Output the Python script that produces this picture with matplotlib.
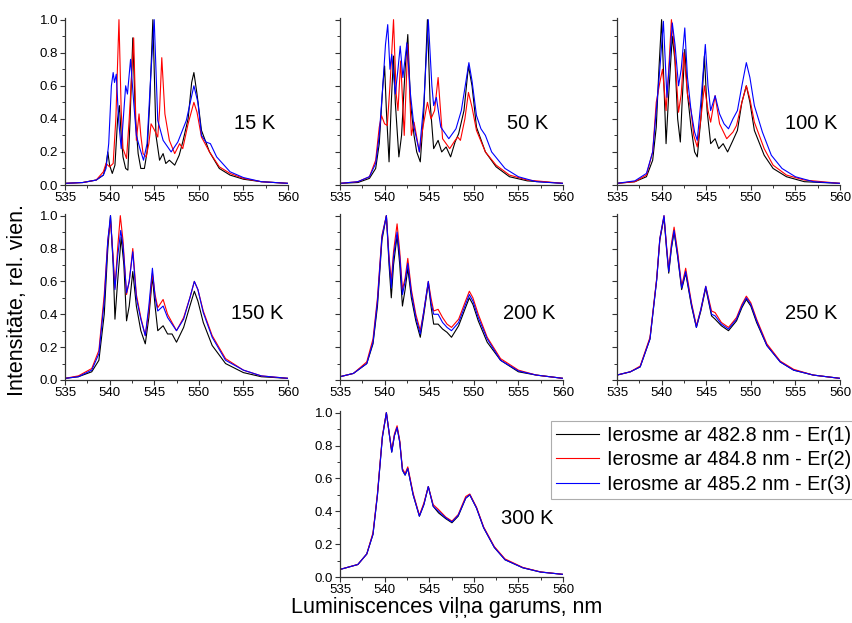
"""Er luminescence spectra at several temperatures, three excitation wavelengths."""

import matplotlib

matplotlib.use("Agg")
import matplotlib.pyplot as plt
from matplotlib.ticker import MultipleLocator

plt.rcParams["font.family"] = ["Liberation Sans", "DejaVu Sans"]

SERIES_LABELS = [
    "Ierosme ar 482.8 nm - Er(1)",
    "Ierosme ar 484.8 nm - Er(2)",
    "Ierosme ar 485.2 nm - Er(3)",
]
SERIES_COLORS = ["black", "#ff0000", "#0000ff"]
TEMPERATURES = ["15 K", "50 K", "100 K", "150 K", "200 K", "250 K", "300 K"]

# (wavelength nm, relative intensity)
K15_ER1 = [(535, 0.01), (537, 0.015), (538.5, 0.03), (539.3, 0.06), (539.6, 0.12), (539.8, 0.2),
           (540.0, 0.12), (540.3, 0.07), (540.6, 0.12), (540.9, 0.4), (541.1, 0.48), (541.3, 0.3),
           (541.5, 0.17), (541.8, 0.1), (542.05, 0.09), (542.3, 0.4), (542.6, 0.89), (542.9, 0.4),
           (543.2, 0.19), (543.5, 0.1), (543.9, 0.1), (544.2, 0.2), (544.5, 0.5), (544.85, 1.0),
           (545.2, 0.3), (545.6, 0.15), (546.0, 0.19), (546.3, 0.13), (546.7, 0.15), (547.3, 0.12),
           (547.8, 0.18), (548.2, 0.26), (548.8, 0.4), (549.2, 0.62), (549.45, 0.68), (549.8, 0.55),
           (550.3, 0.33), (551.2, 0.2), (552.3, 0.1), (553.5, 0.06), (555, 0.035), (557, 0.02),
           (560, 0.01)]
K15_ER2 = [(535, 0.01), (537, 0.015), (538.5, 0.03), (539.3, 0.08), (539.6, 0.13), (540.0, 0.11),
           (540.4, 0.13), (540.7, 0.4), (541.05, 1.0), (541.3, 0.45), (541.5, 0.22), (541.9, 0.16),
           (542.2, 0.4), (542.7, 0.89), (543.0, 0.27), (543.3, 0.43), (543.5, 0.3), (543.75, 0.19),
           (544.1, 0.17), (544.4, 0.25), (544.65, 0.37), (545.05, 0.33), (545.4, 0.29), (545.6, 0.45),
           (545.85, 0.77), (546.2, 0.43), (546.7, 0.27), (547.3, 0.19), (547.85, 0.25), (548.2, 0.22),
           (548.8, 0.37), (549.45, 0.5), (549.8, 0.44), (550.3, 0.29), (551.2, 0.2), (552.3, 0.11),
           (553.5, 0.07), (555, 0.04), (557, 0.02), (560, 0.01)]
K15_ER3 = [(535, 0.01), (537, 0.015), (538.5, 0.03), (539.3, 0.06), (539.6, 0.1), (539.9, 0.25),
           (540.2, 0.6), (540.4, 0.68), (540.55, 0.62), (540.75, 0.67), (541.0, 0.4), (541.3, 0.22),
           (541.6, 0.45), (541.8, 0.6), (542.0, 0.55), (542.35, 0.76), (542.7, 0.5), (543.0, 0.3),
           (543.4, 0.22), (543.8, 0.15), (544.2, 0.25), (544.6, 0.65), (545.0, 1.0), (545.4, 0.39),
           (546.0, 0.27), (546.9, 0.2), (547.65, 0.26), (548.6, 0.39), (549.45, 0.6), (549.9, 0.5),
           (550.3, 0.3), (550.8, 0.26), (551.3, 0.25), (552.0, 0.17), (553.5, 0.08), (555, 0.045),
           (557, 0.02), (560, 0.01)]

K50_ER1 = [(535, 0.01), (537, 0.015), (538.3, 0.04), (539.0, 0.1), (539.4, 0.25), (539.8, 0.6),
           (540.0, 0.72), (540.2, 0.45), (540.5, 0.14), (540.75, 0.5), (541.0, 0.78), (541.2, 0.5),
           (541.6, 0.17), (541.9, 0.3), (542.3, 0.7), (542.6, 0.91), (542.9, 0.5), (543.3, 0.3),
           (543.6, 0.2), (544.0, 0.14), (544.4, 0.45), (544.8, 1.0), (545.1, 0.5), (545.5, 0.22),
           (546.0, 0.27), (546.4, 0.2), (546.9, 0.23), (547.4, 0.17), (547.9, 0.26), (548.3, 0.31),
           (548.9, 0.45), (549.4, 0.72), (549.8, 0.6), (550.3, 0.35), (551.3, 0.2), (552.5, 0.11),
           (554, 0.05), (556, 0.025), (560, 0.01)]
K50_ER2 = [(535, 0.01), (537, 0.02), (538.3, 0.05), (539.0, 0.15), (539.4, 0.35), (539.65, 0.42),
           (540.0, 0.37), (540.3, 0.36), (540.6, 0.6), (541.0, 1.0), (541.3, 0.55), (541.5, 0.45),
           (541.8, 0.75), (542.2, 0.3), (542.6, 0.85), (543.0, 0.3), (543.3, 0.38), (543.9, 0.2),
           (544.3, 0.35), (544.8, 0.5), (545.2, 0.4), (545.6, 0.45), (546.0, 0.65), (546.5, 0.28),
           (547.3, 0.22), (547.9, 0.27), (548.2, 0.29), (548.5, 0.27), (549.0, 0.4), (549.4, 0.56),
           (549.8, 0.47), (550.3, 0.33), (551.3, 0.2), (552.5, 0.12), (554, 0.06), (556, 0.03),
           (560, 0.01)]
K50_ER3 = [(535, 0.01), (537, 0.02), (538.3, 0.05), (539.0, 0.13), (539.4, 0.3), (539.8, 0.6),
           (540.1, 0.85), (540.35, 0.97), (540.6, 0.7), (540.8, 0.79), (541.2, 0.55), (541.5, 0.7),
           (541.75, 0.84), (542.05, 0.65), (542.5, 0.86), (542.9, 0.55), (543.3, 0.35), (543.9, 0.2),
           (544.4, 0.5), (544.9, 1.0), (545.3, 0.6), (545.5, 0.48), (545.8, 0.53), (546.3, 0.35),
           (547.2, 0.28), (548.0, 0.34), (548.6, 0.45), (549.1, 0.62), (549.45, 0.74), (549.8, 0.63),
           (550.3, 0.42), (550.8, 0.34), (551.3, 0.3), (552.0, 0.2), (553.5, 0.1), (555, 0.05),
           (557, 0.02), (560, 0.01)]

K100_ER1 = [(535, 0.01), (537, 0.02), (538.3, 0.05), (539.0, 0.15), (539.4, 0.35), (539.7, 0.7),
            (540.0, 1.0), (540.2, 0.7), (540.5, 0.25), (540.8, 0.55), (541.2, 0.9), (541.5, 0.75),
            (541.8, 0.4), (542.1, 0.26), (542.3, 0.5), (542.6, 0.82), (542.9, 0.55), (543.3, 0.35),
            (543.7, 0.2), (544.0, 0.17), (544.4, 0.4), (544.8, 0.78), (545.1, 0.45), (545.5, 0.25),
            (546.0, 0.28), (546.4, 0.22), (546.9, 0.25), (547.4, 0.2), (548.0, 0.27), (548.5, 0.33),
            (549.0, 0.5), (549.5, 0.6), (549.9, 0.5), (550.4, 0.33), (551.5, 0.18), (552.5, 0.1),
            (554, 0.05), (556, 0.02), (560, 0.01)]
K100_ER2 = [(535, 0.01), (537, 0.02), (538.3, 0.06), (539.0, 0.2), (539.4, 0.5), (539.8, 0.62),
            (540.1, 0.7), (540.5, 0.45), (540.8, 0.7), (541.1, 1.0), (541.4, 0.85), (541.9, 0.44),
            (542.2, 0.55), (542.5, 0.8), (542.9, 0.55), (543.3, 0.45), (543.6, 0.3), (544.0, 0.23),
            (544.4, 0.4), (544.8, 0.6), (545.2, 0.45), (545.5, 0.38), (546.0, 0.54), (546.5, 0.37),
            (547.3, 0.28), (548.0, 0.32), (548.4, 0.36), (549.0, 0.5), (549.5, 0.6), (549.9, 0.52),
            (550.4, 0.38), (551.5, 0.22), (552.5, 0.12), (554, 0.06), (556, 0.03), (560, 0.01)]
K100_ER3 = [(535, 0.01), (537, 0.025), (538.3, 0.07), (539.0, 0.2), (539.4, 0.45), (539.8, 0.7),
            (540.2, 0.99), (540.6, 0.53), (540.9, 0.75), (541.2, 0.98), (541.5, 0.85), (541.9, 0.6),
            (542.2, 0.7), (542.6, 0.95), (542.9, 0.65), (543.3, 0.45), (543.7, 0.32), (544.0, 0.27),
            (544.4, 0.5), (544.9, 0.85), (545.2, 0.6), (545.5, 0.45), (546.0, 0.54), (546.5, 0.43),
            (547.0, 0.37), (547.5, 0.34), (548.0, 0.4), (548.5, 0.45), (549.0, 0.6), (549.5, 0.74),
            (549.9, 0.65), (550.4, 0.48), (551.3, 0.32), (552.3, 0.18), (553.5, 0.1), (555, 0.05),
            (557, 0.02), (560, 0.01)]

K150_ER1 = [(535, 0.01), (536.5, 0.02), (538.0, 0.05), (538.8, 0.12), (539.4, 0.4), (539.8, 0.8),
            (540.1, 1.0), (540.4, 0.7), (540.6, 0.37), (540.9, 0.6), (541.3, 0.87), (541.6, 0.7),
            (541.9, 0.36), (542.2, 0.45), (542.6, 0.66), (543.0, 0.45), (543.5, 0.3), (544.0, 0.22),
            (544.4, 0.38), (544.8, 0.63), (545.1, 0.45), (545.4, 0.3), (546.0, 0.33), (546.5, 0.28),
            (547.0, 0.28), (547.5, 0.23), (548.3, 0.32), (549.0, 0.45), (549.5, 0.54), (549.9, 0.48),
            (550.5, 0.35), (551.5, 0.21), (553, 0.1), (555, 0.045), (557, 0.02), (560, 0.01)]
K150_ER2 = [(535, 0.01), (536.5, 0.025), (538.0, 0.07), (538.8, 0.18), (539.4, 0.52), (539.8, 0.85),
            (540.1, 0.97), (540.4, 0.75), (540.6, 0.56), (540.9, 0.8), (541.2, 1.0), (541.5, 0.85),
            (541.9, 0.52), (542.2, 0.6), (542.6, 0.8), (543.0, 0.52), (543.5, 0.38), (544.0, 0.27),
            (544.4, 0.42), (544.8, 0.65), (545.1, 0.52), (545.4, 0.44), (546.0, 0.49), (546.5, 0.4),
            (547.5, 0.3), (548.3, 0.38), (549.0, 0.5), (549.5, 0.6), (549.9, 0.55), (550.5, 0.42),
            (551.5, 0.27), (553, 0.13), (555, 0.06), (557, 0.025), (560, 0.01)]
K150_ER3 = [(535, 0.01), (536.5, 0.02), (538.0, 0.06), (538.8, 0.16), (539.4, 0.48), (539.8, 0.85),
            (540.1, 1.0), (540.4, 0.72), (540.6, 0.55), (540.9, 0.75), (541.25, 0.91), (541.5, 0.82),
            (541.9, 0.53), (542.2, 0.6), (542.6, 0.78), (543.0, 0.5), (543.5, 0.37), (544.0, 0.27),
            (544.4, 0.45), (544.8, 0.68), (545.1, 0.5), (545.4, 0.42), (546.0, 0.45), (546.5, 0.38),
            (547.5, 0.3), (548.3, 0.37), (549.0, 0.5), (549.5, 0.6), (549.9, 0.55), (550.5, 0.41),
            (551.5, 0.26), (553, 0.12), (555, 0.06), (557, 0.025), (560, 0.01)]

K200_ER1 = [(535, 0.02), (536.5, 0.04), (538.0, 0.1), (538.7, 0.22), (539.2, 0.45), (539.7, 0.85),
            (540.2, 1.0), (540.5, 0.7), (540.75, 0.5), (541.0, 0.7), (541.4, 0.88), (541.7, 0.7),
            (542.0, 0.45), (542.3, 0.55), (542.6, 0.68), (543.0, 0.5), (543.5, 0.36), (544.0, 0.26),
            (544.4, 0.4), (544.9, 0.59), (545.2, 0.45), (545.5, 0.34), (546.0, 0.34), (546.5, 0.31),
            (547.0, 0.29), (547.5, 0.26), (548.3, 0.33), (549.0, 0.43), (549.5, 0.5), (549.9, 0.46),
            (550.5, 0.36), (551.5, 0.23), (553, 0.12), (555, 0.05), (557, 0.03), (560, 0.01)]
K200_ER2 = [(535, 0.02), (536.5, 0.04), (538.0, 0.11), (538.7, 0.25), (539.2, 0.5), (539.7, 0.88),
            (540.2, 1.0), (540.5, 0.75), (540.75, 0.6), (541.0, 0.78), (541.4, 0.95), (541.7, 0.78),
            (542.0, 0.55), (542.3, 0.62), (542.6, 0.74), (543.0, 0.55), (543.5, 0.4), (544.0, 0.3),
            (544.4, 0.42), (544.9, 0.6), (545.2, 0.5), (545.5, 0.42), (546.0, 0.43), (546.5, 0.38),
            (547.0, 0.34), (547.5, 0.32), (548.3, 0.37), (549.0, 0.47), (549.5, 0.54), (549.9, 0.5),
            (550.5, 0.4), (551.5, 0.26), (553, 0.13), (555, 0.06), (557, 0.03), (560, 0.01)]
K200_ER3 = [(535, 0.02), (536.5, 0.04), (538.0, 0.1), (538.7, 0.23), (539.2, 0.48), (539.7, 0.87),
            (540.2, 1.0), (540.5, 0.73), (540.75, 0.56), (541.0, 0.75), (541.4, 0.9), (541.7, 0.75),
            (542.0, 0.52), (542.3, 0.6), (542.6, 0.71), (543.0, 0.53), (543.5, 0.38), (544.0, 0.28),
            (544.4, 0.42), (544.9, 0.6), (545.2, 0.47), (545.5, 0.4), (546.0, 0.4), (546.5, 0.35),
            (547.0, 0.32), (547.5, 0.3), (548.3, 0.35), (549.0, 0.45), (549.5, 0.52), (549.9, 0.48),
            (550.5, 0.38), (551.5, 0.25), (553, 0.12), (555, 0.055), (557, 0.03), (560, 0.01)]

K250_ER1 = [(535, 0.03), (536.5, 0.05), (537.6, 0.08), (538.7, 0.25), (539.45, 0.61), (539.8, 0.85),
            (540.27, 0.99), (540.55, 0.8), (540.8, 0.65), (541.1, 0.8), (541.4, 0.9), (541.8, 0.75),
            (542.25, 0.55), (542.7, 0.65), (543.35, 0.45), (543.9, 0.32), (544.4, 0.42), (544.95, 0.56),
            (545.6, 0.39), (546.0, 0.37), (546.7, 0.33), (547.5, 0.3), (548.4, 0.36), (549.0, 0.44),
            (549.5, 0.49), (550.0, 0.45), (550.65, 0.35), (551.8, 0.21), (553.3, 0.11), (554.8, 0.06),
            (557, 0.03), (560, 0.01)]
K250_ER2 = [(535, 0.03), (536.5, 0.05), (537.6, 0.085), (538.7, 0.26), (539.45, 0.62), (539.8, 0.86),
            (540.27, 1.0), (540.55, 0.82), (540.8, 0.67), (541.1, 0.83), (541.4, 0.93), (541.8, 0.78),
            (542.25, 0.57), (542.7, 0.68), (543.35, 0.47), (543.9, 0.33), (544.4, 0.43), (544.95, 0.57),
            (545.6, 0.42), (546.0, 0.41), (546.7, 0.35), (547.5, 0.32), (548.4, 0.38), (549.0, 0.46),
            (549.5, 0.51), (550.0, 0.47), (550.65, 0.37), (551.8, 0.22), (553.3, 0.115), (554.8, 0.065),
            (557, 0.03), (560, 0.01)]
K250_ER3 = [(535, 0.03), (536.5, 0.05), (537.6, 0.08), (538.7, 0.25), (539.45, 0.61), (539.8, 0.86),
            (540.27, 1.0), (540.55, 0.81), (540.8, 0.66), (541.1, 0.81), (541.4, 0.91), (541.8, 0.76),
            (542.25, 0.56), (542.7, 0.66), (543.35, 0.46), (543.9, 0.32), (544.4, 0.43), (544.95, 0.57),
            (545.6, 0.4), (546.0, 0.39), (546.7, 0.34), (547.5, 0.31), (548.4, 0.37), (549.0, 0.45),
            (549.5, 0.5), (550.0, 0.46), (550.65, 0.36), (551.8, 0.21), (553.3, 0.11), (554.8, 0.06),
            (557, 0.03), (560, 0.01)]

K300_ER1 = [(535, 0.046), (537.0, 0.076), (538.0, 0.14), (538.7, 0.26), (539.2, 0.5), (539.75, 0.85),
            (540.2, 1.0), (540.5, 0.88), (540.8, 0.76), (541.1, 0.86), (541.4, 0.91), (541.7, 0.82),
            (542.0, 0.65), (542.3, 0.62), (542.6, 0.66), (543.2, 0.5), (543.9, 0.37), (544.4, 0.44),
            (544.9, 0.55), (545.45, 0.43), (546.05, 0.39), (546.85, 0.355), (547.55, 0.33), (548.25, 0.37),
            (549.1, 0.48), (549.55, 0.5), (550.3, 0.42), (551.1, 0.3), (552.3, 0.18), (553.5, 0.105),
            (555.5, 0.056), (557.5, 0.03), (560, 0.016)]
K300_ER2 = [(535, 0.046), (537.0, 0.076), (538.0, 0.14), (538.7, 0.27), (539.2, 0.51), (539.75, 0.86),
            (540.2, 1.0), (540.5, 0.88), (540.8, 0.77), (541.1, 0.87), (541.4, 0.92), (541.7, 0.83),
            (542.0, 0.66), (542.3, 0.63), (542.6, 0.67), (543.2, 0.51), (543.9, 0.375), (544.4, 0.45),
            (544.9, 0.55), (545.45, 0.44), (546.05, 0.41), (546.85, 0.365), (547.55, 0.34), (548.25, 0.38),
            (549.1, 0.49), (549.55, 0.505), (550.3, 0.425), (551.1, 0.305), (552.3, 0.185), (553.5, 0.11),
            (555.5, 0.058), (557.5, 0.031), (560, 0.016)]
K300_ER3 = [(535, 0.046), (537.0, 0.076), (538.0, 0.14), (538.7, 0.26), (539.2, 0.5), (539.75, 0.85),
            (540.2, 1.0), (540.5, 0.88), (540.8, 0.76), (541.1, 0.86), (541.4, 0.91), (541.7, 0.82),
            (542.0, 0.65), (542.3, 0.62), (542.6, 0.66), (543.2, 0.5), (543.9, 0.37), (544.4, 0.44),
            (544.9, 0.55), (545.45, 0.43), (546.05, 0.4), (546.85, 0.36), (547.55, 0.335), (548.25, 0.375),
            (549.1, 0.48), (549.55, 0.5), (550.3, 0.42), (551.1, 0.3), (552.3, 0.18), (553.5, 0.105),
            (555.5, 0.056), (557.5, 0.03), (560, 0.016)]

SPECTRA = [
    (K15_ER1, K15_ER2, K15_ER3),
    (K50_ER1, K50_ER2, K50_ER3),
    (K100_ER1, K100_ER2, K100_ER3),
    (K150_ER1, K150_ER2, K150_ER3),
    (K200_ER1, K200_ER2, K200_ER3),
    (K250_ER1, K250_ER2, K250_ER3),
    (K300_ER1, K300_ER2, K300_ER3),
]

# Panel rectangles in figure pixels: left, top, right, bottom (853x623 canvas)
W, H = 853, 623
PANEL_BOX = [
    (65, 18, 288, 185), (340, 18, 563, 185), (617, 18, 840, 185),
    (65, 214, 288, 380), (340, 214, 563, 380), (617, 214, 840, 380),
    (340, 411, 563, 577),
]
LABEL_POS = [(0.85, 0.37), (0.84, 0.37), (0.87, 0.37),
             (0.86, 0.40), (0.85, 0.40), (0.87, 0.40), (0.84, 0.35)]
SHOW_YLABELS = [True, False, False, True, False, False, True]

fig = plt.figure(figsize=(W / 100, H / 100), dpi=100)

handles = []
for i, (temp, curves) in enumerate(zip(TEMPERATURES, SPECTRA)):
    l, t, r, b = PANEL_BOX[i]
    ax = fig.add_axes([l / W, 1 - b / H, (r - l) / W, (b - t) / H])
    for pts, color, lab in zip(curves, SERIES_COLORS, SERIES_LABELS):
        xs = [p[0] for p in pts]
        ys = [p[1] for p in pts]
        (ln,) = ax.plot(xs, ys, color=color, lw=0.8, label=lab)
        if i == 0:
            handles.append(ln)
    ax.set_xlim(535, 560)
    ax.set_ylim(0, 1.01)
    ax.xaxis.set_major_locator(MultipleLocator(5))
    ax.xaxis.set_minor_locator(MultipleLocator(2.5))
    ax.yaxis.set_major_locator(MultipleLocator(0.2))
    ax.yaxis.set_minor_locator(MultipleLocator(0.1))
    ax.yaxis.set_major_formatter(matplotlib.ticker.FormatStrFormatter("%.1f"))
    for side in ("top", "right"):
        ax.spines[side].set_visible(False)
    for side in ("left", "bottom"):
        ax.spines[side].set_color("#333333")
        ax.spines[side].set_linewidth(0.9)
    ax.tick_params(which="major", direction="out", length=3.5, width=0.8,
                   labelsize=9.5, pad=1.5, colors="#333333", labelcolor="black")
    ax.tick_params(which="minor", direction="out", length=2, width=0.7, colors="#333333")
    if not SHOW_YLABELS[i]:
        ax.tick_params(axis="y", labelleft=False)
    ax.patch.set_alpha(0)
    ax.text(LABEL_POS[i][0], LABEL_POS[i][1], temp, transform=ax.transAxes,
            ha="center", va="center", fontsize=14.5)

fig.text(18 / W, 1 - 300 / H, "Intensitāte, rel. vien.", rotation=90,
         ha="center", va="center", fontsize=15.5)
fig.text(447 / W, 1 - 608 / H, "Luminiscences viļņa garums, nm",
         ha="center", va="center", fontsize=15.5)

leg = fig.legend(handles=handles, loc="upper left", bbox_to_anchor=(551 / W, 1 - 421 / H),
                 fontsize=14.2, frameon=True, fancybox=False, edgecolor="#999999",
                 handlelength=2.2, handletextpad=0.4, labelspacing=0.27,
                 borderpad=0.25, borderaxespad=0)
leg.get_frame().set_linewidth(0.8)

fig.savefig("out.png", dpi=100)
